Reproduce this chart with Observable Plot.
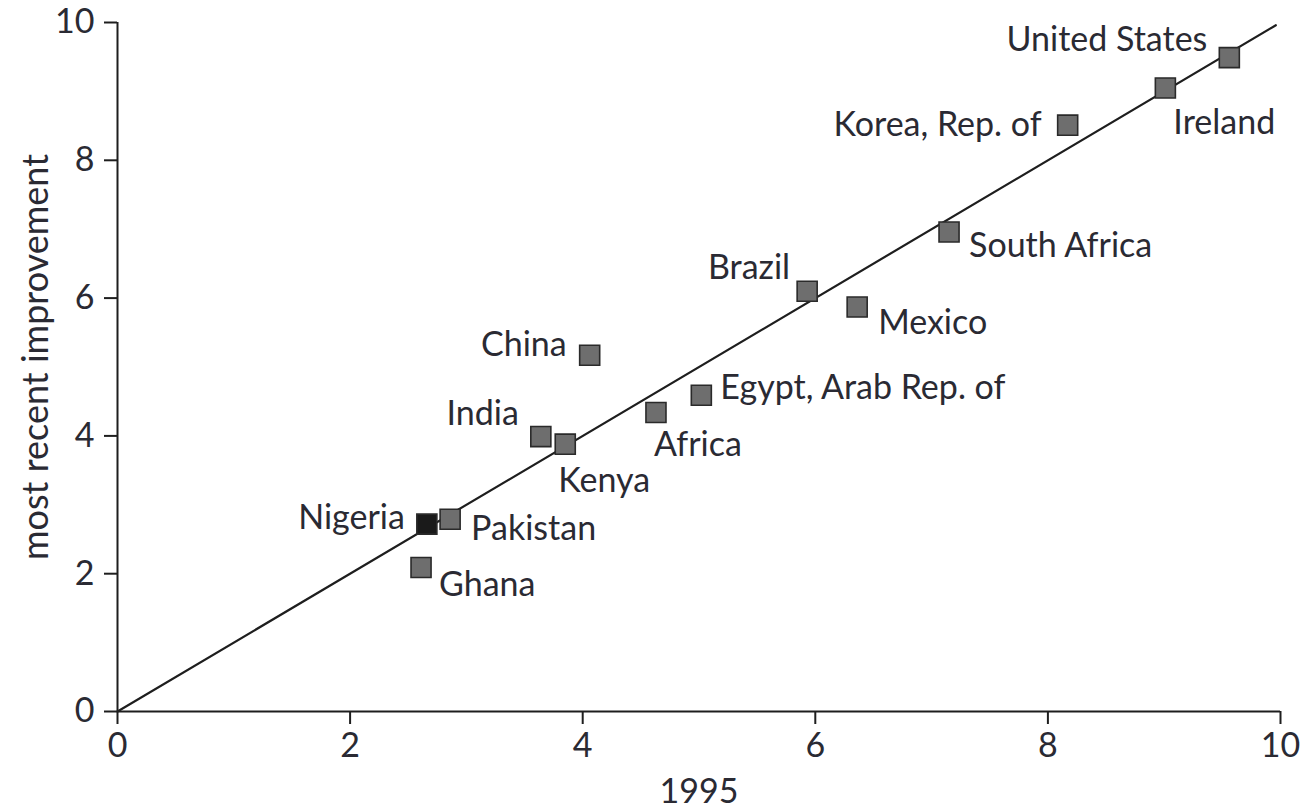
<!DOCTYPE html>
<html>
<head>
<meta charset="utf-8">
<script src="https://cdn.jsdelivr.net/npm/d3@7"></script>
<script src="https://cdn.jsdelivr.net/npm/@observablehq/plot@0.6"></script>
<style>
  html, body { margin: 0; padding: 0; background: #fff; }
  #chart { width: 1306px; height: 810px; }
</style>
</head>
<body>
<div id="chart"></div>
<script>
// ---- data ----
const countries = ["United States", "Ireland", "Korea, Rep. of", "South Africa", "Brazil", "Mexico", "China",
  "Egypt, Arab Rep. of", "Africa", "India", "Kenya", "Nigeria", "Pakistan", "Ghana"];
const value1995 = [9.56, 9.01, 8.17, 7.15, 5.93, 6.36, 4.06, 5.02, 4.63, 3.64, 3.85, 2.66, 2.86, 2.61];
const valueRecent = [9.49, 9.05, 8.51, 6.96, 6.10, 5.87, 5.17, 4.59, 4.34, 3.99, 3.88, 2.72, 2.79, 2.09];
const highlighted = ["Nigeria"];
const diagonal = [0, 9.96];
const xTicks = [0, 2, 4, 6, 8, 10];
const yTicks = [0, 2, 4, 6, 8, 10];
const xLabel = "1995";
const yLabel = "most recent improvement";

const points = countries.map((c, i) => ({name: c, x: value1995[i], y: valueRecent[i], hi: highlighted.includes(c)}));
const diagLine = diagonal.map(v => ({x: v, y: v}));

// label placement (style): [dx, dy, textAnchor]
const place = {
  "United States": [-22, -18, "end"],
  "Ireland": [8, 35, "start"],
  "Korea, Rep. of": [-26, 0, "end"],
  "South Africa": [20, 14, "start"],
  "Brazil": [-17, -23, "end"],
  "Mexico": [21, 16, "start"],
  "China": [-23, -10, "end"],
  "Egypt, Arab Rep. of": [19, -7, "start"],
  "Africa": [-2, 33, "start"],
  "India": [-22, -22, "end"],
  "Kenya": [-7, 37, "start"],
  "Nigeria": [-22, -6, "end"],
  "Pakistan": [21, 10, "start"],
  "Ghana": [18, 18, "start"]
};

const FONT = 34;
const INK = "#1e1e1e";
const TEXT = "#2a2a33";

const labelMarks = points.map(p => {
  const [dx, dy, anchor] = place[p.name];
  return Plot.text([p], {x: "x", y: "y", text: "name", dx, dy, textAnchor: anchor,
    fontSize: FONT, fill: TEXT});
});

const chart = Plot.plot({
  width: 1306,
  height: 810,
  marginLeft: 117,
  marginRight: 26,
  marginTop: 22,
  marginBottom: 99,
  style: {fontFamily: "Lato, 'Open Sans', sans-serif", background: "#fff", color: TEXT},
  x: {domain: [0, 10]},
  y: {domain: [0, 10]},
  marks: [
    Plot.axisY({ticks: yTicks, tickSize: 13, tickPadding: 10, fontSize: FONT, label: null, strokeWidth: 2, stroke: INK, fill: TEXT}),
    Plot.axisX({ticks: xTicks, tickSize: 13, tickPadding: 8, fontSize: FONT, label: null, strokeWidth: 2, stroke: INK, fill: TEXT}),
    Plot.ruleX([0], {stroke: INK, strokeWidth: 2}),
    Plot.ruleY([0], {stroke: INK, strokeWidth: 2}),
    Plot.line(diagLine, {x: "x", y: "y", stroke: INK, strokeWidth: 2.2}),
    Plot.dot(points, {x: "x", y: "y", symbol: "square", r: 11.3,
      fill: d => d.hi ? "#1a1a1a" : "#6e6e6e", stroke: "#2a2a2a", strokeWidth: 1.6}),
    ...labelMarks,
    Plot.text([yLabel], {frameAnchor: "left", textAnchor: "middle", lineAnchor: "middle", rotate: -90,
      dx: -81, dy: -10, fontSize: 36, fill: TEXT}),
    Plot.text([xLabel], {frameAnchor: "bottom", textAnchor: "middle", lineAnchor: "middle",
      dy: 81, fontSize: FONT, fill: TEXT})
  ]
});
document.getElementById("chart").appendChild(chart);
</script>
</body>
</html>
